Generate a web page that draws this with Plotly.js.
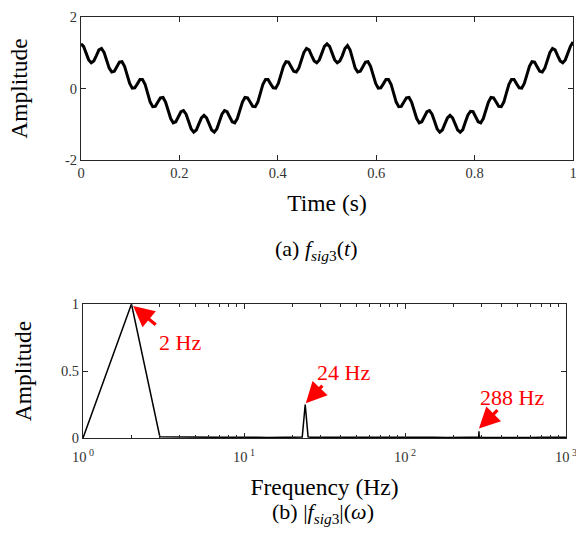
<!DOCTYPE html>
<html>
<head>
<meta charset="utf-8">
<script src="https://cdn.plot.ly/plotly-3.0.1.min.js"></script>
<style>html,body{margin:0;padding:0;background:#fff;}#chart{width:576px;height:545px;}</style>
</head>
<body>
<div id="chart"></div>
<script>
// Time-domain signal (a): samples, 192 samples per second
const timeStart = 0;
const timeStep = 1 / 192;
const signalAmplitude = [
  1.25,1.18,0.99,0.80,0.72,0.77,0.92,1.08,
  1.12,1.01,0.79,0.57,0.46,0.48,0.61,0.74,
  0.75,0.62,0.38,0.14,0.01,0.02,0.13,0.25,
  0.25,0.12,-0.13,-0.38,-0.51,-0.50,-0.38,-0.26,
  -0.25,-0.38,-0.61,-0.84,-0.96,-0.93,-0.79,-0.65,
  -0.62,-0.72,-0.92,-1.13,-1.22,-1.16,-0.99,-0.82,
  -0.75,-0.82,-0.99,-1.16,-1.22,-1.13,-0.92,-0.72,
  -0.62,-0.65,-0.79,-0.93,-0.96,-0.84,-0.61,-0.38,
  -0.25,-0.26,-0.38,-0.50,-0.51,-0.38,-0.13,0.12,
  0.25,0.25,0.13,0.02,0.01,0.14,0.38,0.62,
  0.75,0.74,0.61,0.48,0.46,0.57,0.79,1.01,
  1.12,1.08,0.92,0.77,0.72,0.80,0.99,1.18,
  1.25,1.18,0.99,0.80,0.72,0.77,0.92,1.12,
  1.20,1.08,0.83,0.57,0.46,0.48,0.61,0.74,
  0.75,0.62,0.38,0.14,0.01,0.02,0.13,0.25,
  0.25,0.12,-0.13,-0.38,-0.51,-0.50,-0.38,-0.26,
  -0.25,-0.38,-0.61,-0.84,-0.96,-0.93,-0.79,-0.65,
  -0.62,-0.72,-0.92,-1.13,-1.22,-1.16,-0.99,-0.82,
  -0.75,-0.82,-0.99,-1.16,-1.22,-1.15,-0.94,-0.74,
  -0.64,-0.65,-0.79,-0.93,-0.96,-0.84,-0.61,-0.38,
  -0.25,-0.26,-0.38,-0.50,-0.51,-0.38,-0.13,0.12,
  0.25,0.25,0.13,0.02,0.01,0.14,0.38,0.62,
  0.75,0.74,0.61,0.48,0.46,0.57,0.79,1.01,
  1.12,1.08,0.92,0.77,0.72,0.80,0.99,1.18,
  1.30
];

// Spectrum (b)
const spectrumFreq = [1,2,3,4,5,6,7,8,9,10,12,14,16,18,20,22,23,24,25,26,28,30,35,40,50,60,70,80,100,120,150,180,200,250,287,288,289,300,350,400,500,600,700,800,900,1000];
const spectrumAmp = [0,1,0.01,0.007,0.006,0.008,0.005,0.006,0.007,0.005,0.006,0.004,0.007,0.005,0.006,0.005,0.008,0.25,0.008,0.005,0.006,0.004,0.006,0.005,0.007,0.004,0.006,0.005,0.007,0.005,0.006,0.004,0.006,0.005,0.006,0.05,0.006,0.005,0.004,0.006,0.005,0.004,0.006,0.005,0.004,0.005];

// Tick labels
const timeTicks = [0, 0.2, 0.4, 0.6, 0.8, 1];
const timeTickText = ['0', '0.2', '0.4', '0.6', '0.8', '1'];
const ampTicks = [-2, 0, 2];
const ampTickText = ['-2', '0', '2'];
const freqTicks = [1, 10, 100, 1000];
const freqTickText = ['10<sup> 0</sup>', '10<sup> 1</sup>', '10<sup> 2</sup>', '10<sup> 3</sup>'];
const freqMinor = [2,3,4,5,6,7,8,9,20,30,40,50,60,70,80,90,200,300,400,500,600,700,800,900];
const specTicks = [0, 0.5, 1];
const specTickText = ['0', '0.5', '1'];

// Peak labels
const peakLabels = ['2 Hz', '24 Hz', '288 Hz'];

const serif = 'Liberation Serif, Times New Roman, serif';
const axisColor = '#262626';
const tickFont = {family: serif, size: 14.5, color: '#333333'};
const titleFont = {family: serif, size: 23.5, color: '#000000'};

const baseAxis = {
  showline: true, linecolor: axisColor, linewidth: 1, mirror: 'ticks',
  ticks: 'inside', ticklen: 5, tickcolor: axisColor, tickwidth: 1,
  showgrid: false, zeroline: false, tickfont: tickFont, automargin: false,
  ticklabeloverflow: 'allow'
};

const traces = [
  {
    x0: timeStart, dx: timeStep, y: signalAmplitude,
    type: 'scatter', mode: 'lines', xaxis: 'x', yaxis: 'y',
    line: {color: '#000000', width: 3}, hoverinfo: 'skip'
  },
  {
    x: spectrumFreq, y: spectrumAmp,
    type: 'scatter', mode: 'lines', xaxis: 'x2', yaxis: 'y2',
    line: {color: '#000000', width: 1.5}, hoverinfo: 'skip'
  }
];

const redFont = {family: serif, size: 22, color: '#ff0000'};
const arrowStyle = {showarrow: true, arrowhead: 2, arrowsize: 1.3, arrowwidth: 3.2, arrowcolor: '#ff0000', text: '', xref: 'x2', yref: 'y2'};

const layout = {
  width: 576, height: 545,
  margin: {l: 0, r: 0, t: 0, b: 0},
  paper_bgcolor: '#ffffff', plot_bgcolor: '#ffffff',
  showlegend: false,
  xaxis: Object.assign({}, baseAxis, {
    domain: [81/576, 573/576], anchor: 'y', range: [0, 1],
    tickvals: timeTicks, ticktext: timeTickText,
    title: {text: 'Time (s)', font: titleFont, standoff: 14}
  }),
  yaxis: Object.assign({}, baseAxis, {
    domain: [1 - 160/545, 1 - 17/545], anchor: 'x', range: [-2, 2],
    tickvals: ampTicks, ticktext: ampTickText,
    title: {text: 'Amplitude', font: titleFont, standoff: 30}
  }),
  xaxis2: Object.assign({}, baseAxis, {
    domain: [83/576, 566/576], anchor: 'y2', type: 'log', range: [0, 3],
    tickvals: freqTicks, ticktext: freqTickText, ticklabelstandoff: 6,
    minor: {tickvals: freqMinor, ticks: 'inside', ticklen: 3, tickcolor: axisColor, showgrid: false},
    title: {text: 'Frequency (Hz)', font: titleFont, standoff: 14}
  }),
  yaxis2: Object.assign({}, baseAxis, {
    domain: [1 - 438/545, 1 - 304/545], anchor: 'x2', range: [0, 1],
    tickvals: specTicks, ticktext: specTickText,
    title: {text: 'Amplitude', font: titleFont, standoff: 22}
  }),
  annotations: [
    Object.assign({}, arrowStyle, {x: Math.log10(2.05), y: 0.985, ax: 24, ay: 20}),
    Object.assign({}, arrowStyle, {x: Math.log10(24.2), y: 0.26, ax: 18, ay: -19}),
    Object.assign({}, arrowStyle, {x: Math.log10(288), y: 0.07, ax: 20, ay: -20}),
    {xref: 'x2', yref: 'y2', x: 0.60, y: 0.71, text: peakLabels[0], showarrow: false, font: redFont},
    {xref: 'x2', yref: 'y2', x: 1.615, y: 0.49, text: peakLabels[1], showarrow: false, font: redFont},
    {xref: 'x2', yref: 'y2', x: 2.665, y: 0.305, text: peakLabels[2], showarrow: false, font: redFont},
    {xref: 'paper', yref: 'paper', x: 316/576, y: 1 - 250/545, xanchor: 'center', yanchor: 'middle', showarrow: false,
     text: '(a) <i>f</i><sub><i>sig</i>3</sub>(<i>t</i>)', font: {family: serif, size: 22, color: '#000000'}},
    {xref: 'paper', yref: 'paper', x: 323/576, y: 1 - 513/545, xanchor: 'center', yanchor: 'middle', showarrow: false,
     text: '(b) |<i>f</i><sub><i>sig</i>3</sub>|(<i>ω</i>)', font: {family: serif, size: 22, color: '#000000'}}
  ]
};

Plotly.newPlot('chart', traces, layout, {staticPlot: true, displayModeBar: false});
</script>
</body>
</html>
